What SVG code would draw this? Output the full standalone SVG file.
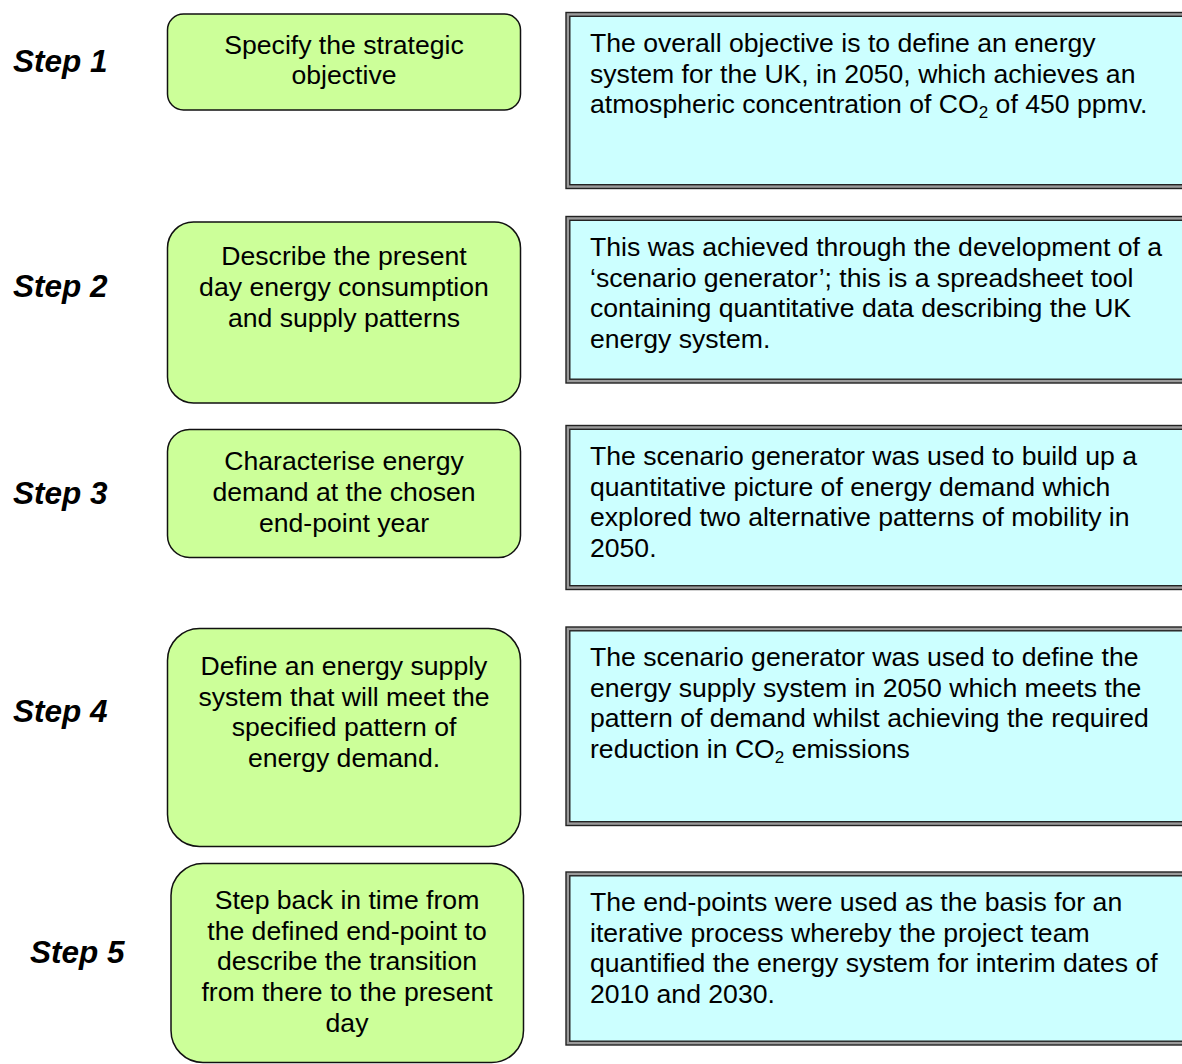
<svg xmlns="http://www.w3.org/2000/svg" width="1182" height="1064" viewBox="0 0 1182 1064">
<style>
.g{fill:#ccff99;stroke:#111;stroke-width:1.5}
.bo{fill:#9a9a9a;stroke:#222;stroke-width:1.4}
.bi{fill:#ccffff;stroke:#222;stroke-width:1.4}
.t{font-family:"Liberation Sans",Arial,sans-serif;font-size:26.6px;fill:#000}
.c{text-anchor:middle}
.s{font-family:"Liberation Sans",Arial,sans-serif;font-size:31.5px;font-weight:bold;font-style:italic;fill:#000}
.sub{font-size:17px}
</style>
<rect width="1182" height="1064" fill="#fff"/>
<g id="step-labels">
<text class="s" x="13" y="72">Step 1</text>
<text class="s" x="13" y="297">Step 2</text>
<text class="s" x="13" y="504">Step 3</text>
<text class="s" x="13" y="722">Step 4</text>
<text class="s" x="30" y="963">Step 5</text>
</g>
<g id="step1">
<rect class="g" x="167.5" y="14" width="353" height="96" rx="16"/>
<text class="t c" x="344" y="54">Specify the strategic</text>
<text class="t c" x="344" y="84">objective</text>
</g>
<g id="step2">
<rect class="g" x="167.5" y="222" width="353" height="181" rx="26"/>
<text class="t c" x="344" y="265">Describe the present</text>
<text class="t c" x="344" y="296">day energy consumption</text>
<text class="t c" x="344" y="327">and supply patterns</text>
</g>
<g id="step3">
<rect class="g" x="167.5" y="429.5" width="353" height="128" rx="22"/>
<text class="t c" x="344" y="470">Characterise energy</text>
<text class="t c" x="344" y="501">demand at the chosen</text>
<text class="t c" x="344" y="532">end-point year</text>
</g>
<g id="step4">
<rect class="g" x="167.5" y="628.5" width="353" height="218" rx="32"/>
<text class="t c" x="344" y="675">Define an energy supply</text>
<text class="t c" x="344" y="706">system that will meet the</text>
<text class="t c" x="344" y="736">specified pattern of</text>
<text class="t c" x="344" y="767">energy demand.</text>
</g>
<g id="step5">
<rect class="g" x="171" y="863.5" width="352.5" height="199" rx="32"/>
<text class="t c" x="347" y="909">Step back in time from</text>
<text class="t c" x="347" y="940">the defined end-point to</text>
<text class="t c" x="347" y="970">describe the transition</text>
<text class="t c" x="347" y="1001">from there to the present</text>
<text class="t c" x="347" y="1032">day</text>
</g>
<g id="desc1">
<rect class="bo" x="566" y="12.5" width="630" height="176"/>
<rect class="bi" x="569.8" y="16.3" width="630" height="168.4"/>
<text class="t" x="590" y="52">The overall objective is to define an energy</text>
<text class="t" x="590" y="82.5">system for the UK, in 2050, which achieves an</text>
<text class="t" x="590" y="113">atmospheric concentration of CO<tspan class="sub" dy="5">2</tspan><tspan dy="-5"> of 450 ppmv.</tspan></text>
</g>
<g id="desc2">
<rect class="bo" x="566" y="216.5" width="630" height="166.5"/>
<rect class="bi" x="569.8" y="220.3" width="630" height="158.9"/>
<text class="t" x="590" y="256">This was achieved through the development of a</text>
<text class="t" x="590" y="286.5">‘scenario generator’; this is a spreadsheet tool</text>
<text class="t" x="590" y="317">containing quantitative data describing the UK</text>
<text class="t" x="590" y="347.5">energy system.</text>
</g>
<g id="desc3">
<rect class="bo" x="566" y="425.5" width="630" height="164"/>
<rect class="bi" x="569.8" y="429.3" width="630" height="156.4"/>
<text class="t" x="590" y="465">The scenario generator was used to build up a</text>
<text class="t" x="590" y="496">quantitative picture of energy demand which</text>
<text class="t" x="590" y="526">explored two alternative patterns of mobility in</text>
<text class="t" x="590" y="557">2050.</text>
</g>
<g id="desc4">
<rect class="bo" x="566" y="627" width="630" height="198.5"/>
<rect class="bi" x="569.8" y="630.8" width="630" height="190.9"/>
<text class="t" x="590" y="666">The scenario generator was used to define the</text>
<text class="t" x="590" y="697">energy supply system in 2050 which meets the</text>
<text class="t" x="590" y="727">pattern of demand whilst achieving the required</text>
<text class="t" x="590" y="758">reduction in CO<tspan class="sub" dy="5">2</tspan><tspan dy="-5"> emissions</tspan></text>
</g>
<g id="desc5">
<rect class="bo" x="566" y="872" width="630" height="173"/>
<rect class="bi" x="569.8" y="875.8" width="630" height="165.4"/>
<text class="t" x="590" y="911">The end-points were used as the basis for an</text>
<text class="t" x="590" y="942">iterative process whereby the project team</text>
<text class="t" x="590" y="972">quantified the energy system for interim dates of</text>
<text class="t" x="590" y="1003">2010 and 2030.</text>
</g>
<g id="connectors"/>
</svg>
